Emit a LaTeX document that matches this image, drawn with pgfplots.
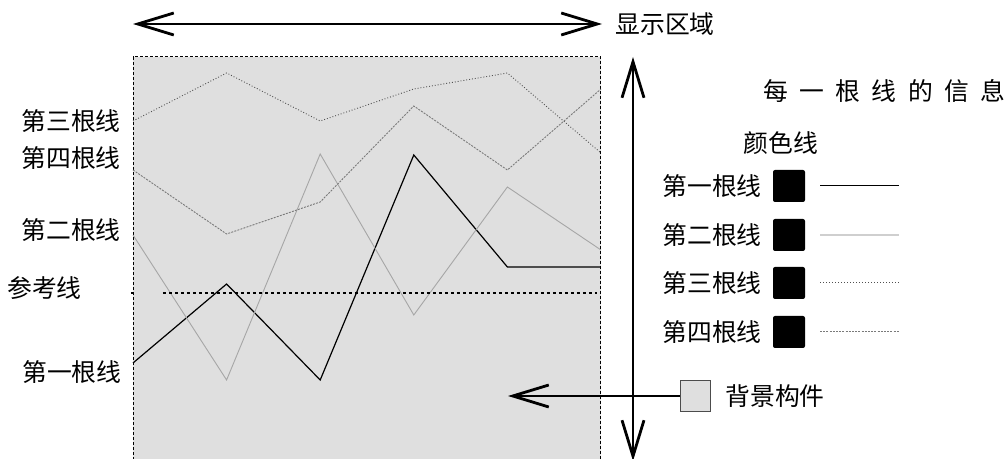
\documentclass[border=0pt]{standalone}
\usepackage{fontspec}
\setmainfont{Noto Sans CJK SC}
\usepackage{pgfplots}
\pgfplotsset{compat=1.18}
\usetikzlibrary{arrows.meta}
\definecolor{panel}{HTML}{DFDFDF}
\definecolor{lineb}{HTML}{A6A6A6}
\definecolor{linec}{HTML}{505050}
\definecolor{lined}{HTML}{7A7A7A}
\definecolor{legb}{HTML}{CFCFCF}

\begin{document}
\begin{tikzpicture}[font=\fontsize{12.4}{14}\selectfont]
\begin{axis}[
  scale only axis, width=234pt, height=204pt,
  xmin=0, xmax=5, ymin=-6, ymax=402,
  ticks=none,
  axis line style={black, line width=0.5pt, dash pattern=on 1.6pt off 0.9pt},
  axis background/.style={fill=panel},
  clip=false,
]
% values are 459 minus the pixel row
\addplot[black, line width=0.6pt] coordinates {(0,96) (1,175) (2,79) (3,304) (4,192) (5,192)};
\addplot[lineb, line width=0.45pt] coordinates {(0,224) (1,79) (2,305) (3,144) (4,272) (5,209)};
\addplot[linec, line width=0.45pt, densely dotted] coordinates {(0,338) (1,386) (2,338) (3,370) (4,386) (5,306)};
\addplot[lined, line width=0.45pt, dash pattern=on 1pt off 0.6pt] coordinates {(0,289) (1,225) (2,257) (3,353) (4,289) (5,370)};
% reference line
\addplot[black, line width=1pt] coordinates {(-0.02,166) (0.01,166)};
\addplot[black, line width=1pt, dash pattern=on 1.5pt off 1.5pt] coordinates {(0.32,166) (4.96,166)};
\end{axis}

% annotations, in pixel units of the reference
\begin{scope}[x=0.5pt,y=-0.5pt,shift={(-66.5pt,232.5pt)},
  every node/.style={inner sep=0pt},
  >={Straight Barb[length=18pt,width=11pt,line width=1.4pt]}]
\draw[<->, line width=1pt] (133,24) -- (602,24);
\node[anchor=west] at (615,24) {显示区域};
\draw[<->, line width=1pt] (633,57) -- (633,461);
\draw[->, line width=1pt] (681,396) -- (508,396);
\draw[fill=panel, draw=black!70, line width=0.5pt] (680,381) rectangle (710,412);
\node[anchor=west] at (725,396) {背景构件};

\node[anchor=east] at (121,121) {第三根线};
\node[anchor=east] at (121,158) {第四根线};
\node[anchor=east] at (121,230) {第二根线};
\node[anchor=west] at (7,288) {参考线};
\node[anchor=east] at (122,372) {第一根线};

\node[anchor=west] at (763,91) {每\hspace{5.7pt}一\hspace{5.7pt}根\hspace{5.7pt}线\hspace{5.7pt}的\hspace{5.7pt}信\hspace{5.7pt}息};
\node at (781,143) {颜色线};

\node[anchor=east] at (762,186) {第一根线};
\node[anchor=east] at (762,235) {第二根线};
\node[anchor=east] at (762,283) {第三根线};
\node[anchor=east] at (762,332) {第四根线};
\foreach \c in {186,235,283,332}
  \fill[black, rounded corners=1pt] (773,\c-16) rectangle (805,\c+16);
\draw[black, line width=0.5pt] (820,186) -- (899,186);
\draw[legb, line width=1pt] (820,235) -- (899,235);
\draw[linec, line width=0.5pt, densely dotted] (820,283) -- (899,283);
\draw[lined, line width=0.5pt, dash pattern=on 1pt off 0.6pt] (820,332) -- (899,332);

\pgfresetboundingbox
\useasboundingbox (0,0) rectangle (1006,459);
\end{scope}
\end{tikzpicture}
\end{document}
